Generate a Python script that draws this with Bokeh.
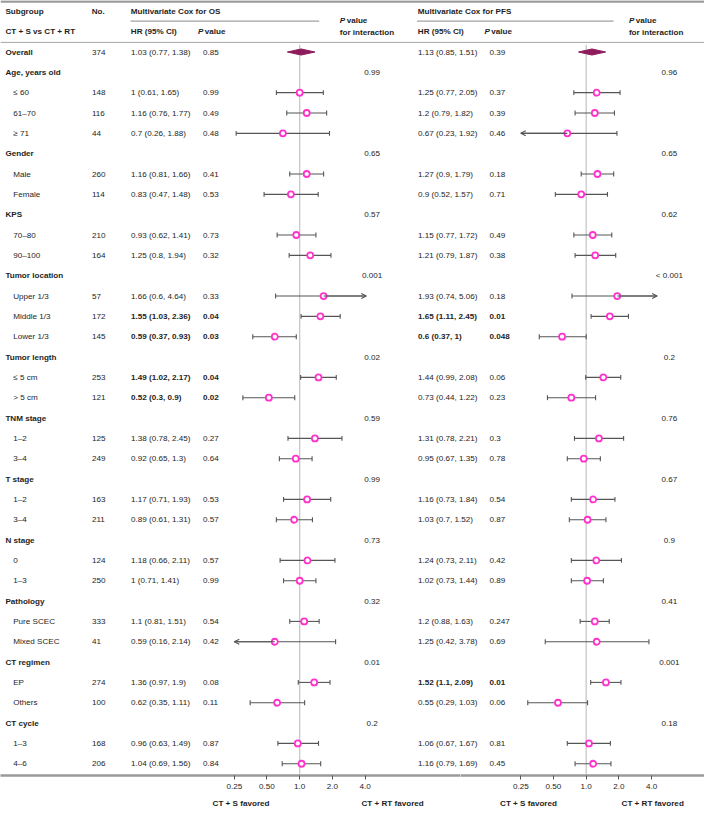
import math
from bokeh.plotting import figure
from bokeh.models import (Range1d, LogScale, LogAxis, FixedTicker, ColumnDataSource,
                          Span, Arrow, OpenHead)
from bokeh.layouts import column, row
from bokeh.core.properties import value
from bokeh.embed import file_html
from bokeh.resources import INLINE

# ---------------- data ----------------
labels = ["Overall", "Age, years old", "≤ 60", "61–70", "≥ 71", "Gender", "Male", "Female",
          "KPS", "70–80", "90–100", "Tumor location", "Upper 1/3", "Middle 1/3", "Lower 1/3",
          "Tumor length", "≤ 5 cm", "> 5 cm", "TNM stage", "1–2", "3–4", "T stage", "1–2", "3–4",
          "N stage", "0", "1–3", "Pathology", "Pure SCEC", "Mixed SCEC", "CT regimen", "EP",
          "Others", "CT cycle", "1–3", "4–6"]
n_pts = [374, None, 148, 116, 44, None, 260, 114, None, 210, 164, None, 57, 172, 145, None,
         253, 121, None, 125, 249, None, 163, 211, None, 124, 250, None, 333, 41, None, 274,
         100, None, 168, 206]

os_hr = [1.03, None, 1, 1.16, 0.7, None, 1.16, 0.83, None, 0.93, 1.25, None, 1.66, 1.55, 0.59,
         None, 1.49, 0.52, None, 1.38, 0.92, None, 1.17, 0.89, None, 1.18, 1, None, 1.1, 0.59,
         None, 1.36, 0.62, None, 0.96, 1.04]
os_lo = [0.77, None, 0.61, 0.76, 0.26, None, 0.81, 0.47, None, 0.62, 0.8, None, 0.6, 1.03, 0.37,
         None, 1.02, 0.3, None, 0.78, 0.65, None, 0.71, 0.61, None, 0.66, 0.71, None, 0.81, 0.16,
         None, 0.97, 0.35, None, 0.63, 0.69]
os_hi = [1.38, None, 1.65, 1.77, 1.88, None, 1.66, 1.48, None, 1.41, 1.94, None, 4.64, 2.36, 0.93,
         None, 2.17, 0.9, None, 2.45, 1.3, None, 1.93, 1.31, None, 2.11, 1.41, None, 1.51, 2.14,
         None, 1.9, 1.11, None, 1.49, 1.56]
os_p = ["0.85", None, "0.99", "0.49", "0.48", None, "0.41", "0.53", None, "0.73", "0.32", None,
        "0.33", "0.04", "0.03", None, "0.04", "0.02", None, "0.27", "0.64", None, "0.53", "0.57",
        None, "0.57", "0.99", None, "0.54", "0.42", None, "0.08", "0.11", None, "0.87", "0.84"]

pfs_hr = [1.13, None, 1.25, 1.2, 0.67, None, 1.27, 0.9, None, 1.15, 1.21, None, 1.93, 1.65, 0.6,
          None, 1.44, 0.73, None, 1.31, 0.95, None, 1.16, 1.03, None, 1.24, 1.02, None, 1.2, 1.25,
          None, 1.52, 0.55, None, 1.06, 1.16]
pfs_lo = [0.85, None, 0.77, 0.79, 0.23, None, 0.9, 0.52, None, 0.77, 0.79, None, 0.74, 1.11, 0.37,
          None, 0.99, 0.44, None, 0.78, 0.67, None, 0.73, 0.7, None, 0.73, 0.73, None, 0.88, 0.42,
          None, 1.1, 0.29, None, 0.67, 0.79]
pfs_hi = [1.51, None, 2.05, 1.82, 1.92, None, 1.79, 1.57, None, 1.72, 1.87, None, 5.06, 2.45, 1,
          None, 2.08, 1.22, None, 2.21, 1.35, None, 1.84, 1.52, None, 2.11, 1.44, None, 1.63, 3.78,
          None, 2.09, 1.03, None, 1.67, 1.69]
pfs_p = ["0.39", None, "0.37", "0.39", "0.46", None, "0.18", "0.71", None, "0.49", "0.38", None,
         "0.18", "0.01", "0.048", None, "0.06", "0.23", None, "0.3", "0.78", None, "0.54", "0.87",
         None, "0.42", "0.89", None, "0.247", "0.69", None, "0.01", "0.06", None, "0.81", "0.45"]

os_inter = ["0.99", "0.65", "0.57", "0.001", "0.02", "0.59", "0.99", "0.73", "0.32", "0.01", "0.2"]
pfs_inter = ["0.96", "0.65", "0.62", "< 0.001", "0.2", "0.76", "0.67", "0.9", "0.41", "0.001", "0.18"]

tick_vals = [0.25, 0.5, 1, 2, 4]
tick_text = ["0.25", "0.50", "1.0", "2.0", "4.0"]
favored_text = ["CT + S favored", "CT + RT favored"]
REF_HR = 1.0

# ---------------- layout (reference pixel units) ----------------
W_REF, H_REF = 720, 826
PAGE_W, PAGE_H = 704, 810
SX, SY = PAGE_W / W_REF, PAGE_H / H_REF
ROW0, PITCH = 52.5, 20.73
BOTTOM_REF = 789
Y_TOP = (0 - ROW0) / PITCH
Y_BOT = (BOTTOM_REF - ROW0) / PITCH
FRAME_H = round(BOTTOM_REF * SY)

FONT = "Liberation Sans"
FS = "8.1px"
TXT = "#1e1e1e"
PINK = "#FF33CC"
DIAMOND = "#8E1B5C"
WHISK = "#555555"
PER2 = 33.45
panels = [
    dict(name="os", hr=os_hr, lo=os_lo, hi=os_hi, p=os_p, inter=os_inter, one=306,
         x_hr=133.5, x_p=207, x_phead=202, x_int=380, x_inthead=347, clip=(0.25, 4.1),
         title="Multivariate Cox for OS", line=(133, 326), fav=(246, 401)),
    dict(name="pfs", hr=pfs_hr, lo=pfs_lo, hi=pfs_hi, p=pfs_p, inter=pfs_inter, one=599,
         x_hr=427, x_p=500, x_phead=495, x_int=684, x_inthead=642.7, clip=(0.25, 4.5),
         title="Multivariate Cox for PFS", line=(426, 627), fav=(540, 667)),
]

def logval(xref, one):
    return 2 ** ((xref - one) / PER2)

# ---------------- main figure ----------------
p = figure(frame_width=PAGE_W, frame_height=FRAME_H, x_range=Range1d(0, W_REF),
           y_range=Range1d(Y_BOT, Y_TOP), x_axis_location=None, y_axis_location=None,
           toolbar_location=None, output_backend="svg", min_border=0,
           outline_line_color=None, background_fill_color="white")
p.xgrid.grid_line_color = None
p.ygrid.grid_line_color = None
for pn in panels:
    p.extra_x_ranges[pn["name"]] = Range1d(logval(0, pn["one"]), logval(W_REF, pn["one"]))
    p.extra_x_scales[pn["name"]] = LogScale()


def put(xs, ys, ts, style="normal", align="left"):
    if not ts:
        return
    src = ColumnDataSource(dict(x=xs, y=ys, t=ts))
    p.text(x="x", y="y", text="t", source=src, text_font=value(FONT),
           text_font_size=value(FS), text_font_style=style, text_align=align,
           text_baseline="middle", text_color=TXT)

# horizontal rules
p.add_layout(Span(location=Y_TOP + 0.05, dimension="width", line_color="#9a9a9a", line_width=2.5))
p.add_layout(Span(location=(42.7 - ROW0) / PITCH, dimension="width", line_color="#a5a5a5", line_width=1))
for pn in panels:
    yl = (21 - ROW0) / PITCH
    p.segment(x0=[pn["line"][0]], y0=[yl], x1=[pn["line"][1]], y1=[yl], line_color="#8a8a8a", line_width=1)

# headers
put([5, 93.3] + [pn["x_hr"] - 0.2 for pn in panels], [-2] * 4,
    ["Subgroup", "No."] + [pn["title"] for pn in panels], style="bold")
put([5] + [pn["x_hr"] - 0.2 for pn in panels], [-1] * 3,
    ["CT + S vs CT + RT", "HR (95% CI)", "HR (95% CI)"], style="bold")
put([pn["x_phead"] for pn in panels] + [pn["x_inthead"] for pn in panels],
    [-1] * 2 + [(20 - ROW0) / PITCH] * 2, ["P"] * 4, style="bold italic")
put([pn["x_phead"] + 7.0 for pn in panels] + [pn["x_inthead"] + 7.0 for pn in panels],
    [-1] * 2 + [(20 - ROW0) / PITCH] * 2, ["value"] * 4, style="bold")
put([pn["x_inthead"] for pn in panels], [(33 - ROW0) / PITCH] * 2,
    ["for interaction"] * 2, style="bold")

# row labels
grp_rows = [i for i, n in enumerate(n_pts) if n is None]
put([5] + [5] * len(grp_rows), [0] + grp_rows, [labels[0]] + [labels[i] for i in grp_rows], style="bold")
sub_rows = [i for i, n in enumerate(n_pts) if n is not None and i > 0]
put([13] * len(sub_rows), sub_rows, [labels[i] for i in sub_rows])
n_rows = [i for i, n in enumerate(n_pts) if n is not None]
put([93.5] * len(n_rows), n_rows, [str(n_pts[i]) for i in n_rows])


def fmt(v):
    return f"{v:g}"

for pn in panels:
    rng = pn["name"]
    rows = [i for i in range(len(labels)) if pn["hr"][i] is not None]
    sig = [i for i in rows if float(pn["p"][i]) < 0.05]
    nsig = [i for i in rows if i not in sig]
    for group, st in ((nsig, "normal"), (sig, "bold")):
        put([pn["x_hr"]] * len(group), group,
            [f"{fmt(pn['hr'][i])} ({fmt(pn['lo'][i])}, {fmt(pn['hi'][i])})" for i in group], style=st)
        put([pn["x_p"]] * len(group), group, [pn["p"][i] for i in group], style=st)
    put([pn["x_int"]] * len(grp_rows), grp_rows, pn["inter"], align="center")

    # reference line
    p.segment(x0=[REF_HR], x1=[REF_HR], y0=[(45 - ROW0) / PITCH], y1=[Y_BOT],
              x_range_name=rng, line_color="#c4c4c4", line_width=1.2)

    cmin, cmax = pn["clip"]
    subs = [i for i in rows if i > 0]
    lo_c = [max(pn["lo"][i], cmin) for i in subs]
    hi_c = [min(pn["hi"][i], cmax) for i in subs]
    p.segment(x0=lo_c, x1=hi_c, y0=subs, y1=subs, x_range_name=rng, line_color=WHISK, line_width=1.1)
    capx = [pn["lo"][i] for i in subs if pn["lo"][i] >= cmin] + [pn["hi"][i] for i in subs if pn["hi"][i] <= cmax]
    capy = [i for i in subs if pn["lo"][i] >= cmin] + [i for i in subs if pn["hi"][i] <= cmax]
    p.segment(x0=capx, x1=capx, y0=[y - 0.12 for y in capy], y1=[y + 0.12 for y in capy],
              x_range_name=rng, line_color=WHISK, line_width=1.1)
    arr_i = [i for i in subs if pn["lo"][i] < cmin or pn["hi"][i] > cmax]
    if arr_i:
        asrc = ColumnDataSource(dict(
            xs=[pn["hr"][i] for i in arr_i],
            xe=[cmin if pn["lo"][i] < cmin else cmax for i in arr_i],
            y=arr_i))
        p.add_layout(Arrow(end=OpenHead(size=5, line_color=WHISK, line_width=1.1),
                           x_start="xs", y_start="y", x_end="xe", y_end="y", source=asrc,
                           x_range_name=rng, line_color=WHISK, line_width=1.1))
    p.scatter(x=[pn["hr"][i] for i in subs], y=subs, x_range_name=rng, marker="circle",
              size=6, fill_color="white", line_color=PINK, line_width=1.8)
    # overall diamond
    h = 0.15
    p.patch(x=[pn["lo"][0], pn["hr"][0], pn["hi"][0], pn["hr"][0]], y=[0, -h, 0, h],
            x_range_name=rng, fill_color=DIAMOND, line_color=DIAMOND, line_width=1)

# ---------------- bottom axes ----------------
SPLIT_PX = 460
SPLIT_REF = SPLIT_PX / SX
bounds = [(0, SPLIT_REF), (SPLIT_REF, W_REF)]
axfigs = []
for pn, (a, b) in zip(panels, bounds):
    w = round(b * SX) - round(a * SX)
    f = figure(frame_width=w, frame_height=1, x_range=Range1d(logval(a, pn["one"]), logval(b, pn["one"])),
               y_range=Range1d(0, 1), x_axis_type="log", x_axis_location=None, y_axis_location=None,
               toolbar_location=None, output_backend="svg", min_border=0, outline_line_color=None)
    f.xgrid.grid_line_color = None
    f.ygrid.grid_line_color = None
    ax = LogAxis(ticker=FixedTicker(ticks=tick_vals, minor_ticks=[]),
                 major_label_overrides={v: s for v, s in zip(tick_vals, tick_text)})
    ax.axis_line_color = "#9a9a9a"
    ax.axis_line_width = 2.5
    ax.major_tick_in = 0
    ax.major_tick_out = 4
    ax.minor_tick_in = 0
    ax.minor_tick_out = 0
    ax.major_tick_line_color = "#555555"
    ax.major_label_standoff = 4
    ax.major_label_text_font = FONT
    ax.major_label_text_font_size = FS
    ax.major_label_text_color = TXT
    f.add_layout(ax, "below")
    fav_vals = [logval(x, pn["one"]) for x in pn["fav"]]
    ax2 = LogAxis(ticker=FixedTicker(ticks=fav_vals, minor_ticks=[]),
                  major_label_overrides={v: s for v, s in zip(fav_vals, favored_text)})
    ax2.axis_line_color = None
    ax2.major_tick_in = 0
    ax2.major_tick_out = 0
    ax2.minor_tick_in = 0
    ax2.minor_tick_out = 0
    ax2.major_label_standoff = 7
    ax2.major_label_text_font = FONT
    ax2.major_label_text_font_size = FS
    ax2.major_label_text_font_style = "bold"
    ax2.major_label_text_color = TXT
    f.add_layout(ax2, "below")
    axfigs.append(f)

layout = column(p, row(*axfigs, spacing=0), spacing=0)
open("out.html", "w").write(file_html(layout, INLINE))
